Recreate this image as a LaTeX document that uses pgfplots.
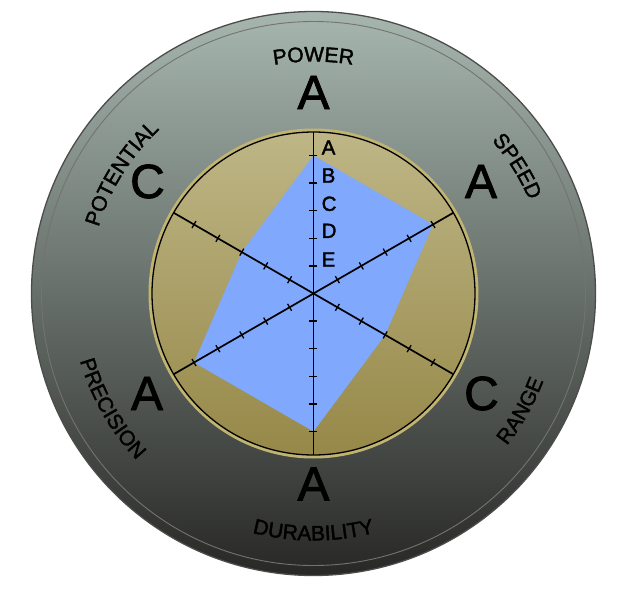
\documentclass[border=0pt]{standalone}
\usepackage{pgfplots}
\pgfplotsset{compat=1.18}
\usepackage{fontspec}
\setmainfont{Liberation Sans}
\newfontfamily\labelfont{Liberation Sans}[LetterSpace=16,FakeBold=1.8]
\newfontfamily\bigfont{Liberation Sans}[FakeBold=1.8]
\newfontfamily\spokefont{Liberation Sans}[FakeBold=1.8]
\usetikzlibrary{decorations.text}

\definecolor{statblue}{RGB}{128,168,252}
\definecolor{graytop}{RGB}{166,182,174}
\definecolor{graymid}{RGB}{112,120,116}
\definecolor{graybot}{RGB}{40,40,38}
\definecolor{tantop}{RGB}{190,182,134}
\definecolor{tanbot}{RGB}{150,136,72}
\definecolor{tanrim}{RGB}{192,180,112}

\newcommand{\lbl}{\labelfont\fontsize{21}{22}\selectfont}

\begin{document}
\begin{tikzpicture}[x=1pt,y=1pt]
\path (-313.5,-296.5) rectangle (308.5,293.5);
% outer disc
\shade[top color=graytop, middle color=graymid, bottom color=graybot] (0,0) circle[radius=282];
\draw[black!70, line width=1.3] (0,0) circle[radius=282];
\draw[black!55, line width=0.9] (0,0) circle[radius=272];
% inner disc
\fill[tanrim] (0,0) circle[radius=165];
\shade[top color=tantop, bottom color=tanbot] (0,0) circle[radius=161.5];

\begin{axis}[at={(-313.5pt,-296.5pt)}, anchor=south west, scale only axis,
  width=622pt, height=590pt,
  xmin=-11.3587, xmax=11.1775, ymin=-10.7428, ymax=10.6341,
  hide axis, clip=false]
% stats: Power A, Speed A, Range C, Durability A, Precision A, Potential C  (A=5 ... E=1)
\addplot[fill=statblue, draw=none, data cs=polar] coordinates {
  (90,5) (30,5) (-30,3) (-90,5) (210,5) (150,3)
};
\end{axis}

\draw[black, line width=1.3] (0,0) circle[radius=161.5];
% spokes and ticks
\foreach \a in {90,30,-30,-90,210,150} {
  \draw[line width=1.7] (0,0) -- (\a:161.5);
  \foreach \r in {1,...,5} {
    \draw[line width=1.3, rotate=\a] (\r*27.6,-4) -- (\r*27.6,4);
  }
}
% grade letters on the vertical spoke
\foreach \l/\y in {A/146,B/118,C/89.7,D/62.7,E/34}
  \node[anchor=west, inner sep=0, font=\spokefont\fontsize{20.5}{20.5}\selectfont] at (8,\y) {\l};

% big grades
\begin{scope}[every node/.style={inner sep=0, font=\bigfont\fontsize{48}{48}\selectfont}]
\node at (0,201) {A};
\node at (167.5,112) {A};
\node at (168,-100) {C};
\node at (0,-190.5) {A};
\node at (-166.5,-100) {A};
\node at (-166,112) {C};
\end{scope}

% curved labels
\path[decorate, decoration={text along path, text align=center, text={|\lbl|POWER}}]
  (130:232) arc[start angle=130, end angle=50, radius=232];
\path[decorate, decoration={text along path, text align=center, text={|\lbl|SPEED}}]
  (72:235) arc[start angle=72, end angle=-8, radius=235];
\path[decorate, decoration={text along path, text align=center, text={|\lbl|POTENTIAL}}]
  (198:225) arc[start angle=198, end angle=98, radius=225];
\path[decorate, decoration={text along path, text align=center, text={|\lbl|DURABILITY}}]
  (-140:247) arc[start angle=-140, end angle=-40, radius=247];
\path[decorate, decoration={text along path, text align=center, text={|\lbl|RANGE}}]
  (-69.5:246) arc[start angle=-69.5, end angle=10.5, radius=246];
\path[decorate, decoration={text along path, text align=center, text={|\lbl|PRECISION}}]
  (159.7:243) arc[start angle=159.7, end angle=259.7, radius=243];
\end{tikzpicture}
\end{document}
